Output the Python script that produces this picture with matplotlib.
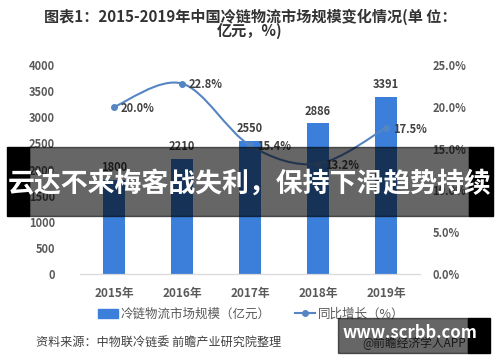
import matplotlib
matplotlib.use("Agg")
import matplotlib.pyplot as plt
import numpy as np
from matplotlib.path import Path
from matplotlib.patches import PathPatch, Rectangle
from matplotlib.lines import Line2D

plt.rcParams['font.family'] = ['Noto Sans CJK SC', 'DejaVu Sans']

years = ['2015年', '2016年', '2017年', '2018年', '2019年']
scale = [1800, 2210, 2550, 2886, 3391]
growth = [20.0, 22.8, 15.4, 13.2, 17.5]
left_ticks = [0, 500, 1000, 1500, 2000, 2500, 3000, 3500, 4000]
right_ticks = [0, 5, 10, 15, 20, 25]

bar_color = '#3b7fdb'
line_color = '#5585c2'
txt = '#404040'
tick_c = '#595959'

fig = plt.figure(figsize=(5, 3.62), dpi=100)
ax = fig.add_axes([0.16, 0.243, 0.68, 0.577])
ax2 = ax.twinx()

x = np.arange(len(years))
ax.bar(x, scale, width=0.31, color=bar_color, zorder=2)
for xi, v in zip(x, scale):
    ax.annotate(str(v), (xi, v), xytext=(0, 4), textcoords='offset points',
                ha='center', va='bottom', fontsize=8, color=txt, fontweight='bold')

ax.set_xlim(-0.5, 4.5)
ax.set_ylim(0, 4000)
ax.set_yticks(left_ticks)
ax.set_xticks(x)
ax.set_xticklabels(years)
ax.tick_params(axis='y', length=0, pad=18, labelsize=8, labelcolor=tick_c)
ax.tick_params(axis='x', length=0, pad=9, labelsize=8.5, labelcolor=tick_c)
for lab in ax.get_xticklabels() + ax.get_yticklabels():
    lab.set_fontweight('bold')

ax2.set_ylim(0, 25)
ax2.set_yticks(right_ticks)
ax2.set_yticklabels([f'{t:.1f}%' for t in right_ticks])
ax2.tick_params(axis='y', length=0, pad=9, labelsize=8, labelcolor=tick_c)
for lab in ax2.get_yticklabels():
    lab.set_fontweight('bold')

for a in (ax, ax2):
    for s in ('top', 'left', 'right'):
        a.spines[s].set_visible(False)
    a.spines['bottom'].set_color('#d9d9d9')

# smoothed line (Bezier through the data points)
pts = np.column_stack([x, growth]).astype(float)
ext = np.vstack([pts[0], pts, pts[-1]])
verts = [tuple(pts[0])]
codes = [Path.MOVETO]
for i in range(len(pts) - 1):
    p0, p1, p2, p3 = ext[i], ext[i + 1], ext[i + 2], ext[i + 3]
    c1 = p1 + (p2 - p0) / 6
    c2 = p2 - (p3 - p1) / 6
    verts += [tuple(c1), tuple(c2), tuple(p2)]
    codes += [Path.CURVE4] * 3
ax2.add_patch(PathPatch(Path(verts, codes), fill=False, edgecolor=line_color, lw=1.5, zorder=3))
ax2.plot(x, growth, 'o', color=line_color, ms=4, zorder=4)
for xi, g in zip(x, growth):
    ax2.annotate(f'{g:.1f}%', (xi, g), xytext=(5, -1), textcoords='offset points',
                 ha='left', va='center', fontsize=8, color=txt, fontweight='bold')

# title
fig.text(0.5, 1 - 17 / 362, '图表1：2015-2019年中国冷链物流市场规模变化情况(单 位：',
         ha='center', va='center', fontsize=10.9, fontweight='bold', color='#333333')
fig.text(0.5, 1 - 31 / 362, '亿元，%)', ha='center', va='center',
         fontsize=10.9, fontweight='bold', color='#333333')

# legend
handles = [Rectangle((0, 0), 1, 1, color=bar_color),
           Line2D([0], [0], color=line_color, marker='o', ms=4, lw=1.5)]
fig.legend(handles, ['冷链物流市场规模（亿元）', '同比增长（%）'], loc='center',
           bbox_to_anchor=(0.502, 1 - 314 / 362), ncol=2, frameon=False,
           fontsize=9, labelcolor=tick_c, handlelength=1.6, handletextpad=0.2,
           columnspacing=2.0)

fig.text(36 / 500, 1 - 342 / 362, '资料来源：中物联冷链委 前瞻产业研究院整理',
         ha='left', va='center', fontsize=8.7, color=txt)
fig.text(362 / 500, 1 - 343 / 362, '@前瞻经济学人APP',
         ha='left', va='center', fontsize=8.5, color=txt)

# overlay banner
fig.patches.append(Rectangle((7 / 500, 1 - 216 / 362), 22 / 500, 69 / 362,
                             transform=fig.transFigure, color='black', zorder=10))
fig.patches.append(Rectangle((29 / 500, 1 - 216 / 362), 440 / 500, 69 / 362,
                             transform=fig.transFigure, color='black', alpha=0.6, zorder=10))
fig.patches.append(Rectangle((469 / 500, 1 - 216 / 362), 24 / 500, 69 / 362,
                             transform=fig.transFigure, color='black', zorder=10))
fig.text(0.5, 1 - 184 / 362, '云达不来梅客战失利，保持下滑趋势持续', ha='center', va='center',
         fontsize=19.4, fontweight='bold', color='white', zorder=11)

# watermark box
fig.patches.append(Rectangle((338 / 500, 1 - 353 / 362), 130 / 500, 35 / 362,
                             transform=fig.transFigure, color='black', alpha=0.6, zorder=10))
fig.patches.append(Rectangle((468 / 500, 1 - 353 / 362), 22 / 500, 35 / 362,
                             transform=fig.transFigure, color='black', zorder=10))
fig.text(410 / 500, 1 - 333 / 362, 'www.scrbb.com', ha='center', va='center',
         fontsize=12, fontweight='bold', color='white', zorder=11)

fig.savefig('out.png', dpi=100)
